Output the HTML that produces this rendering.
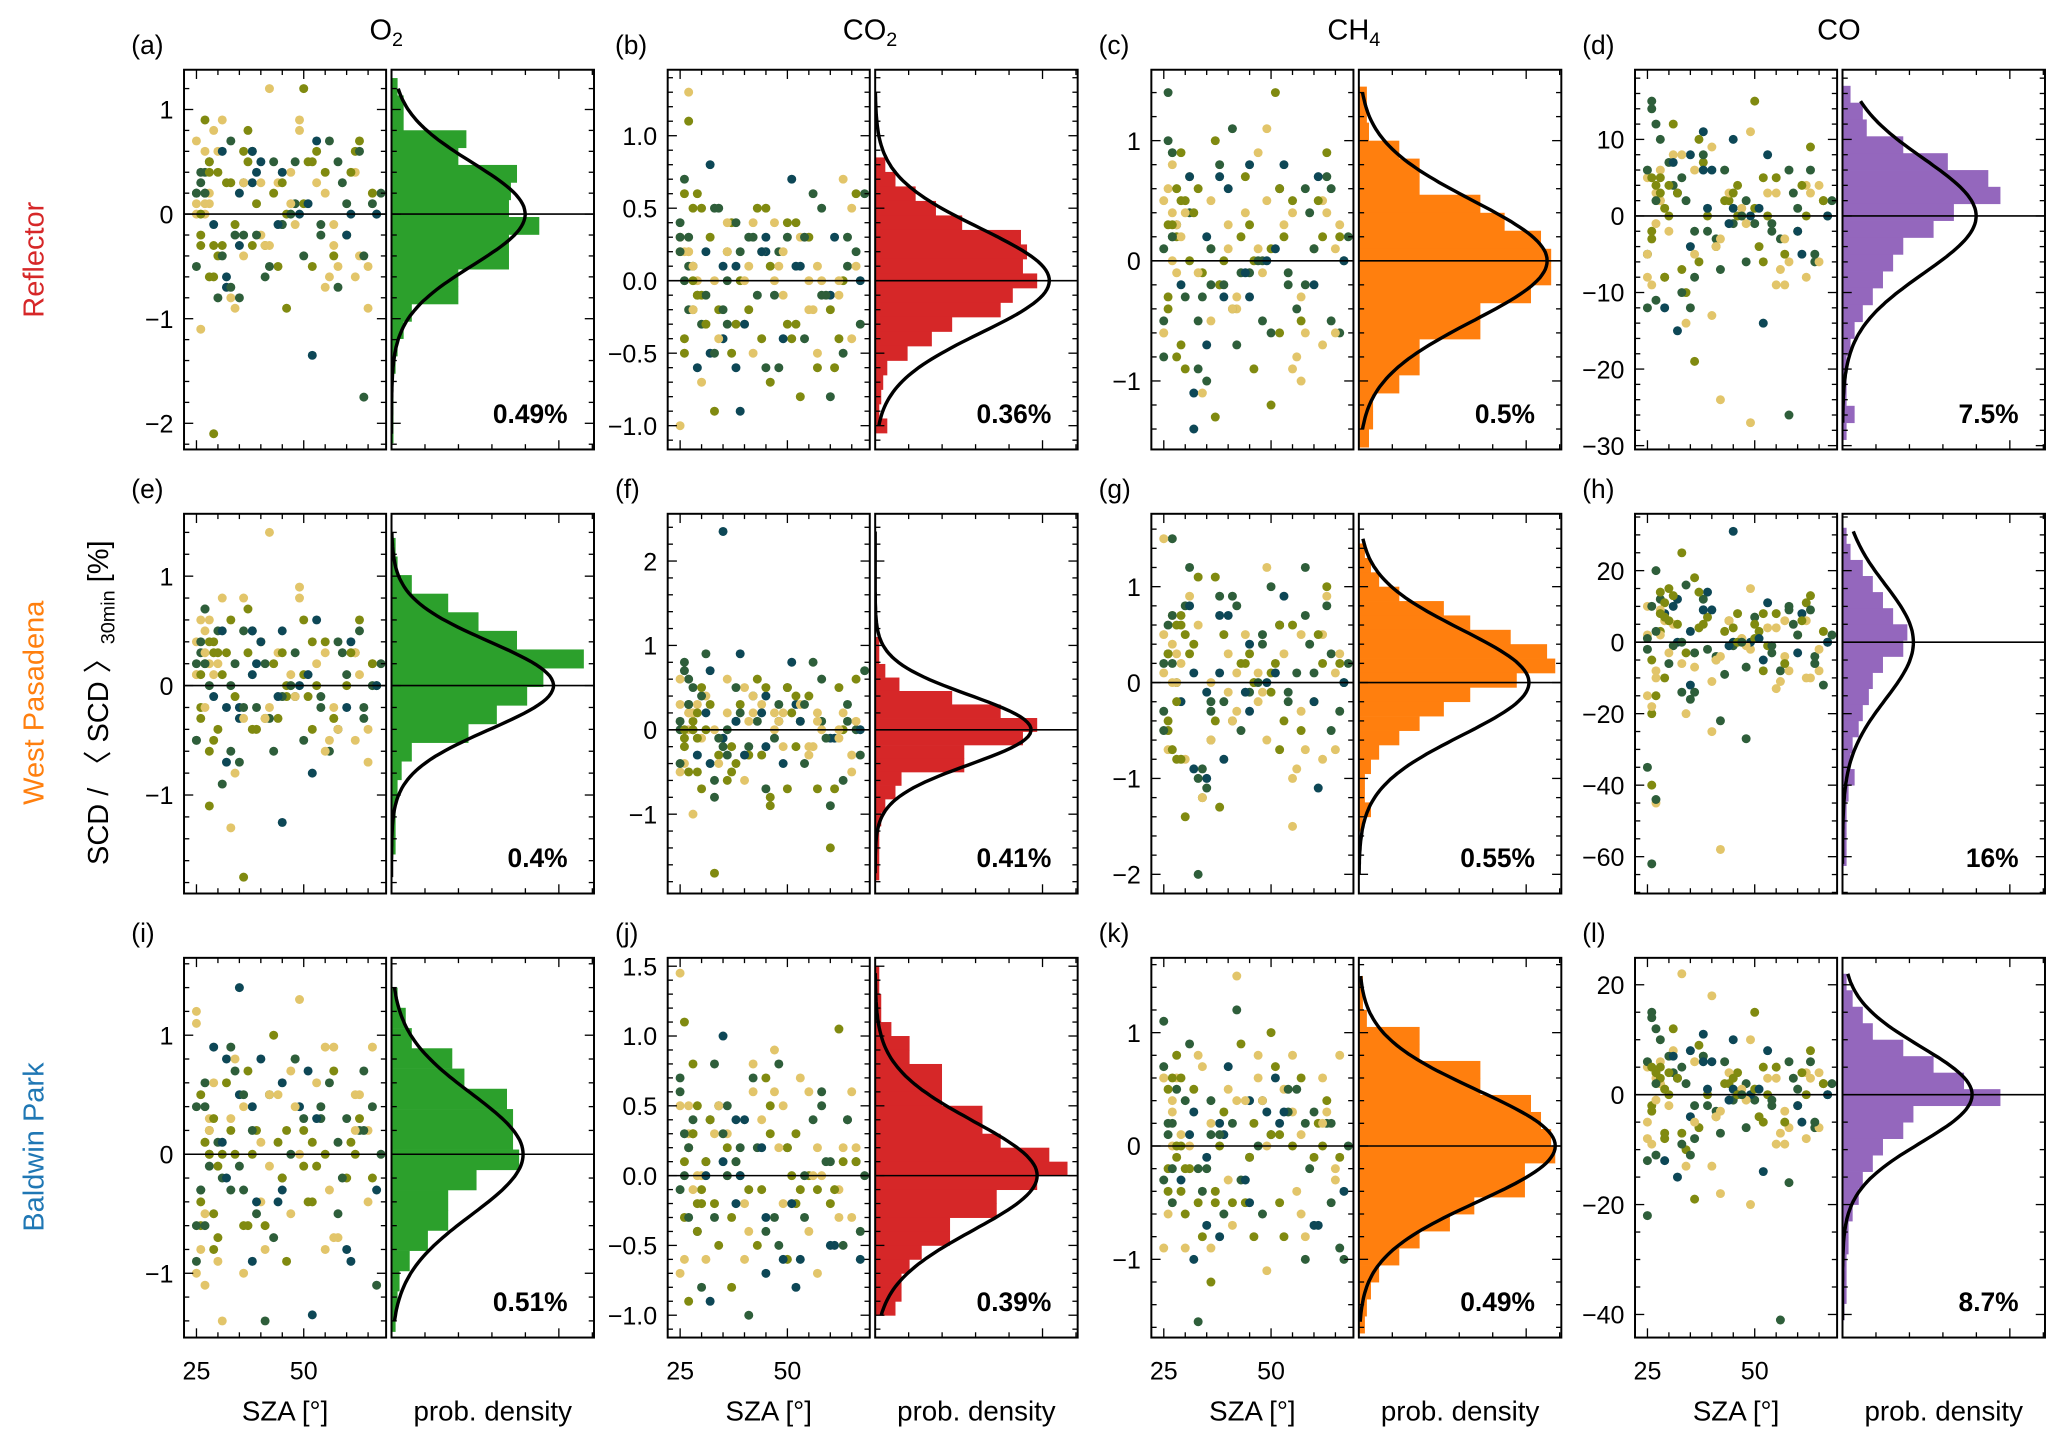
<!DOCTYPE html>
<html><head><meta charset="utf-8"><style>
html,body{margin:0;padding:0;background:#fff}
svg{display:block}
text{font-family:"Liberation Sans",Arial,sans-serif;fill:#000}
</style></head><body>
<svg id="fig" xmlns="http://www.w3.org/2000/svg" width="2067" height="1445" viewBox="0 0 1568 1096" preserveAspectRatio="none">
<text x="293" y="30" font-size="22" text-anchor="middle">O<tspan font-size="15" dy="5">2</tspan></text>
<text x="660" y="30" font-size="22" text-anchor="middle">CO<tspan font-size="15" dy="5">2</tspan></text>
<text x="1027" y="30" font-size="22" text-anchor="middle">CH<tspan font-size="15" dy="5">4</tspan></text>
<text x="1395" y="30" font-size="22" text-anchor="middle">CO</text>
<text transform="translate(33,197) rotate(-90)" font-size="22" text-anchor="middle" style="fill:#d62728">Reflector</text>
<text transform="translate(33,533) rotate(-90)" font-size="22" text-anchor="middle" style="fill:#ff7f0e">West Pasadena</text>
<text transform="translate(33,870) rotate(-90)" font-size="22" text-anchor="middle" style="fill:#1f77b4">Baldwin Park</text>
<text transform="translate(82,533) rotate(-90)" font-size="22" text-anchor="middle">SCD / 〈 SCD 〉<tspan font-size="15" dy="5">30min</tspan><tspan dy="-5"> [%]</tspan></text>
<g id="panels"></g>
</svg>
<script>
// ---- data ----
const sza=[25,26,27,25,28,26,29,27,30,25,31,26,28,32,27,33,25,29,34,26,35,28,36,30,27,37,31,38,26,39,33,40,28,41,35,42,29,43,25,44,36,45,30,46,27,47,38,48,32,49,26,50,40,51,34,52,28,53,42,55,31,56,45,57,27,58,36,60,48,61,33,62,25,63,50,64,39,65,29,66];
const sza2=[44,52,38,60,47,55,33,66,41,58,49,36,63,45,53,29,68,40,57,50,35,62,46,54,31,65,43,59,48,37,64,51,56,28,67,42,61,39,53,34,66,47,58,32,63,44,55,30,60,41,52,36,67,49,57,27,62,45,54,38];
const valsA=[0.7,-0.3,0.4,0.1,-0.6,0.3,-0.1,0.6,-0.4,0.2,0.9,-0.2,0.5,-0.7,0.1,0.3,-0.5,0.8,-0.1,0.4,-0.3,0.2,0.6,-0.8,0.0,0.5,-0.4,0.3,-1.1,0.1,0.7,-0.2,0.4,-0.6,0.2,1.2,-0.3,0.5,0.0,-0.5,0.3,-0.1,0.6,-0.9,0.2,0.4,-0.3,0.1,-0.6,0.8,0.0,-0.4,0.3,0.5,-0.2,-1.35,0.1,0.6,-0.5,0.2,-0.3,0.7,0.4,-0.1,0.9,-0.7,0.3,-0.2,0.5,0.0,-0.8,0.6,0.2,-0.4,1.2,-1.75,0.4,-0.9,-2.1,0.1];
const valsB=[0.3,-0.4,0.1,-1.0,0.5,0.0,-0.6,0.2,-0.1,0.4,-0.3,0.6,0.1,-0.5,0.2,-0.9,0.3,0.0,-0.2,0.7,-0.4,0.1,0.2,-0.3,1.3,0.4,-0.1,-0.6,0.2,0.0,0.5,-0.3,-0.2,0.3,0.1,-0.5,0.6,-0.1,0.2,-0.4,0.0,0.3,-0.7,0.1,-0.2,0.4,-0.3,0.2,0.8,-0.1,-0.5,0.3,0.0,-0.4,0.5,0.1,-0.2,-0.8,0.3,0.0,-0.3,0.6,0.2,-0.5,1.1,-0.1,0.4,-0.2,-0.6,0.3,0.0,-0.4,0.2,0.7,-0.3,0.1,-0.9,0.5,-0.1,0.2];
const valsC=[0.5,-0.3,0.9,-0.6,0.2,1.4,-0.2,0.4,-0.9,0.1,0.7,-0.4,0.3,-1.1,0.0,0.6,-0.5,0.2,-0.1,1.0,-0.7,0.3,0.1,-0.3,0.8,-1.3,0.4,-0.2,0.6,0.0,-0.5,0.3,-0.8,1.1,0.2,-0.4,0.5,-0.1,-0.6,0.7,0.1,-0.3,0.4,-0.9,0.2,0.9,-0.2,0.0,-1.4,0.5,0.3,-0.6,0.1,1.4,-0.3,0.6,-0.1,0.2,-0.7,0.4,0.0,-0.4,0.8,-1.0,0.3,-0.2,0.5,0.1,-0.5,0.7,-0.1,0.2,-0.8,0.4,-1.2,0.6,-0.3,0.1,0.9,-0.6];
const valsD=[5,-3,12,-8,2,15,-12,4,0,-5,8,-2,10,-15,3,-7,6,1,-10,14,-4,2,-19,7,-1,-6,4,11,-9,0,5,-13,3,-3,8,-24,1,6,-5,2,-8,10,-2,4,-11,0,7,-6,3,-27,5,-1,9,-4,2,-14,6,0,-7,3,12,-3,1,-9,4,-26,6,-2,2,-5,8,0,-12,3,15,-6,1,4,-8,2];
const valsE=[0.4,-0.3,0.7,0.1,-0.6,0.3,-0.1,0.5,-0.4,0.2,0.8,-0.2,0.0,-0.7,0.3,0.6,-0.5,0.1,-0.1,0.4,-0.3,0.2,-1.75,0.5,-0.2,0.3,-0.9,0.1,0.6,-0.4,0.0,0.4,-1.1,0.2,-0.2,1.4,0.3,-0.6,0.1,-0.3,0.5,-1.25,0.2,-0.1,0.7,0.0,-0.4,0.3,-0.2,0.9,0.1,-0.5,0.4,-0.1,0.2,-0.8,0.6,0.0,-0.3,0.3,0.1,-0.6,0.5,-0.2,0.2,-0.4,0.8,0.0,-0.1,0.4,-1.3,0.3,-0.5,0.1,0.6,-0.2,0.2,-0.7,0.4,0.0];
const valsF=[0.3,-0.2,0.6,-0.5,0.1,0.8,-0.3,0.2,-0.7,0.0,0.4,-0.1,0.5,-0.4,0.2,-1.7,0.1,0.3,-0.3,0.7,-0.1,0.2,-0.6,0.4,0.0,-0.2,0.9,0.1,-0.4,0.3,-0.8,0.5,0.0,-0.2,2.35,0.2,-0.5,0.1,0.6,-0.3,0.0,0.4,-0.1,-0.9,0.3,0.2,-0.4,0.1,0.7,-0.2,0.0,0.5,-0.6,0.2,-0.1,0.3,-1.0,0.1,0.4,-0.3,0.0,0.8,-0.2,0.2,-0.5,0.1,0.6,-1.4,0.3,-0.1,0.0,0.5,-0.4,0.2,-0.7,0.1,0.9,-0.3,0.2,0.0];
const valsG=[0.5,-0.4,1.5,0.1,-0.8,0.3,-0.2,0.7,-1.4,0.2,0.9,-0.5,0.0,-0.9,0.4,1.1,-0.3,0.2,-1.2,0.6,-0.1,0.3,-0.6,0.8,0.0,-0.4,1.2,0.1,-0.7,0.5,-2.0,0.3,-0.2,0.9,-1.0,0.1,0.6,-0.5,1.5,0.2,-0.3,0.4,-0.8,0.0,0.7,-0.2,-1.3,0.5,0.1,-0.6,0.3,1.0,-0.1,0.2,-0.9,0.6,0.0,-0.4,0.8,-1.5,0.3,0.1,-0.3,0.5,-0.7,1.2,0.0,-0.2,0.4,-1.1,0.6,0.2,-0.5,0.9,-0.1,0.3,-0.8,0.1,0.7,-0.3];
const valsH=[10,-5,20,-15,3,-62,8,-10,15,-2,5,-20,12,0,-8,25,-35,6,-3,10,-12,2,18,-6,-45,4,-1,9,-18,7,0,-25,14,-4,3,-58,11,-9,2,6,-14,31,-3,8,-44,1,5,-7,12,-2,-40,7,-11,3,16,-5,9,-1,-22,4,13,-8,0,6,-15,10,-3,2,-27,8,-6,11,1,-10,5,-4,14,-2,7,-12];
const valsI=[1.2,-0.4,0.6,-1.0,0.2,-0.3,0.9,0.1,-0.7,0.4,-1.4,0.5,-0.1,0.8,-0.5,0.2,-0.9,0.6,0.0,-0.3,1.4,0.3,-0.6,0.1,-1.1,0.7,-0.2,0.4,-0.8,0.2,0.9,-0.4,0.0,-1.4,0.5,-0.1,0.3,-0.7,1.1,0.1,-0.3,0.6,-0.9,0.2,0.4,-0.5,0.0,0.8,-0.2,1.3,-0.6,0.3,0.1,-0.4,0.7,-1.35,0.2,-0.1,0.5,-0.8,0.0,0.6,-0.3,0.9,0.1,-0.5,0.4,-0.2,0.8,-0.9,0.3,0.0,-0.6,0.5,-0.1,0.7,-0.4,0.2,-0.8,0.4];
const valsJ=[0.5,-0.3,0.2,-0.7,0.8,0.0,-0.4,0.3,-0.1,0.6,-0.6,0.1,0.4,-0.9,0.2,-0.2,0.7,0.0,-0.5,0.3,1.0,-0.1,0.2,-0.8,0.5,-0.3,0.1,0.4,-0.6,0.0,0.8,-0.2,0.3,-1.0,0.1,0.6,-0.4,0.2,1.45,-0.1,0.5,-0.7,0.0,0.3,-0.3,0.9,0.1,-0.5,0.4,-0.2,1.1,0.2,-0.6,0.0,0.5,-0.8,0.3,-0.1,0.7,-0.4,0.1,0.4,-0.3,0.2,-0.9,0.6,0.0,-0.2,0.8,-0.5,0.3,1.05,-0.1,0.2,-0.6,0.4,0.0,-0.3,0.5,0.1];
const valsK=[0.6,-0.4,0.2,-0.9,0.8,0.1,-0.3,0.4,-0.6,1.1,0.0,-0.2,0.5,-1.0,0.3,-0.5,0.7,0.1,-0.8,0.2,-0.1,0.6,-1.2,0.4,0.0,-0.4,0.9,0.2,-0.6,0.3,-1.55,0.5,-0.1,0.2,-0.7,1.5,0.0,-0.3,0.6,-0.5,0.1,0.4,-0.9,0.2,-0.2,0.8,0.0,-0.6,0.3,-1.1,0.5,0.1,-0.3,0.7,-0.4,0.2,0.0,-0.8,1.2,0.3,-0.2,0.5,-0.5,0.1,0.6,-1.0,0.2,-0.1,0.4,-0.7,0.8,0.0,-0.3,0.3,1.0,-0.5,0.1,-0.2,0.6,-0.9];
const valsL=[5,-3,12,-8,2,15,-12,4,0,-22,8,-2,10,-15,3,-7,6,1,-10,14,-4,2,-19,7,-1,-6,4,11,-9,0,5,-13,3,-3,8,-18,1,6,-5,2,-8,10,-2,4,-11,0,7,-6,3,-20,5,-1,18,-4,2,-14,6,0,-7,3,12,-41,1,-9,4,-16,6,-2,2,-5,22,0,-12,3,15,-6,1,4,-8,2];
const valsA2=[0.3,-0.5,0.6,-0.2,0.1,0.4,-0.7,0.2,-0.3,0.5,0.0,-0.4,0.7,-0.1,0.3,-0.6,0.2,0.5,-0.3,0.1,-0.8,0.4,0.0,-0.2,0.6,-0.5,0.2,0.3,-0.1,0.8,-0.4,0.1,-0.6,0.5,0.0,-0.3,0.4,-0.2,0.7,-0.9,0.2,0.0,-0.5,0.3,0.6,-0.1,-0.7,0.4,0.1,-0.3,0.5,-0.2,0.0,0.9,-0.4,0.2,-0.6,0.3,-0.1,0.6];
const valsB2=[0.2,-0.3,0.4,-0.1,0.0,0.3,-0.5,0.1,-0.2,0.5,-0.4,0.2,0.0,-0.6,0.3,-0.1,0.6,-0.3,0.1,0.4,-0.2,0.0,-0.7,0.3,0.2,-0.4,0.5,-0.1,0.1,-0.5,0.3,0.7,-0.2,0.0,-0.3,0.4,-0.6,0.2,0.1,-0.4,0.6,-0.1,0.0,0.3,-0.5,0.2,-0.2,0.5,-0.8,0.1,0.4,-0.3,0.0,0.2,-0.6,0.3,-0.1,0.5,-0.4,0.1];
const valsC2=[0.4,-0.6,0.8,-0.2,0.1,0.5,-0.9,0.3,-0.4,0.6,0.0,-0.5,0.9,-0.1,0.3,-0.7,0.2,0.6,-0.3,0.1,-1.0,0.5,0.0,-0.2,0.7,-0.6,0.2,0.4,-0.1,1.0,-0.5,0.1,-0.8,0.6,0.0,-0.3,0.5,-0.2,0.8,-1.1,0.2,0.0,-0.6,0.4,0.7,-0.1,-0.9,0.5,0.1,-0.4,0.6,-0.2,0.0,1.1,-0.5,0.2,-0.7,0.3,-0.1,0.7];
const valsD2=[3,-6,8,-2,1,5,-10,2,-4,6,0,-5,9,-1,3,-8,2,6,-3,1,-12,4,0,-2,7,-6,2,3,-1,10,-5,1,-7,5,0,-3,4,-2,8,-14,2,0,-6,3,6,-1,-9,4,1,-4,5,-2,0,11,-5,2,-8,3,-1,6];
const valsE2=[0.3,-0.4,0.5,-0.2,0.1,0.4,-0.6,0.2,-0.3,0.4,0.0,-0.3,0.6,-0.1,0.2,-0.5,0.2,0.4,-0.3,0.1,-0.7,0.3,0.0,-0.2,0.5,-0.4,0.2,0.3,-0.1,0.7,-0.3,0.1,-0.5,0.4,0.0,-0.2,0.3,-0.2,0.6,-0.8,0.2,0.0,-0.4,0.3,0.5,-0.1,-0.6,0.3,0.1,-0.3,0.4,-0.2,0.0,0.8,-0.3,0.2,-0.5,0.3,-0.1,0.5];
const valsF2=[0.3,-0.2,0.5,-0.1,0.0,0.4,-0.6,0.1,-0.3,0.6,-0.4,0.2,0.0,-0.7,0.3,-0.1,0.7,-0.3,0.1,0.5,-0.2,0.0,-0.8,0.3,0.2,-0.5,0.6,-0.1,0.1,-0.5,0.3,0.8,-0.2,0.0,-0.3,0.4,-0.7,0.2,0.1,-0.4,0.6,-0.1,0.0,0.3,-0.6,0.2,-0.2,0.5,-0.9,0.1,0.4,-0.3,0.0,0.2,-0.7,0.3,-0.1,0.5,-0.4,0.1];
const valsG2=[0.5,-0.7,0.9,-0.2,0.1,0.6,-1.0,0.3,-0.4,0.7,0.0,-0.6,1.0,-0.1,0.3,-0.8,0.2,0.7,-0.3,0.1,-1.1,0.5,0.0,-0.2,0.8,-0.7,0.2,0.4,-0.1,1.1,-0.5,0.1,-0.9,0.6,0.0,-0.3,0.5,-0.2,0.9,-1.2,0.2,0.0,-0.7,0.4,0.8,-0.1,-1.0,0.5,0.1,-0.4,0.6,-0.2,0.0,1.2,-0.5,0.2,-0.8,0.3,-0.1,0.7];
const valsH2=[6,-8,12,-3,1,8,-14,3,-5,9,0,-7,13,-1,4,-10,2,9,-4,1,-16,6,0,-3,10,-8,3,5,-1,14,-6,1,-11,8,0,-4,6,-2,11,-20,3,0,-8,5,9,-1,-13,6,2,-5,8,-3,0,15,-6,3,-10,4,-1,9];
const valsI2=[0.5,-0.4,0.2,-0.8,0.7,0.0,-0.3,0.9,-0.6,0.1,0.4,-1.0,0.3,-0.2,0.6,-0.5,0.0,0.8,-0.7,0.2,-0.1,0.5,-0.9,0.3,0.1,-0.4,1.0,-0.2,0.4,-0.6,0.2,0.7,-0.3,0.0,-1.1,0.5,0.1,-0.5,0.3,0.8,-0.2,0.0,-0.7,0.6,0.2,-0.4,0.9,-0.1,0.3,-0.8,0.1,0.5,-0.3,0.0,0.7,-0.6,0.2,-0.2,0.4,-0.9];
const valsJ2=[0.4,-0.2,0.1,-0.5,0.6,0.0,-0.3,0.2,-0.1,0.5,-0.6,0.3,0.1,-0.4,0.7,-0.2,0.0,0.4,-0.7,0.2,0.3,-0.1,0.5,-0.3,0.0,0.6,-0.5,0.1,0.2,-0.8,0.4,-0.2,0.0,0.3,-0.4,0.8,-0.1,0.2,-0.6,0.5,0.1,-0.3,0.0,0.4,-0.5,0.2,0.6,-0.2,0.1,-0.4,0.3,0.0,-0.6,0.5,-0.1,0.2,-0.3,0.7,0.0,-0.2];
const valsK2=[0.4,-0.5,0.1,-0.7,0.6,0.0,-0.2,0.8,-0.5,0.2,0.3,-0.9,0.4,-0.1,0.5,-0.4,0.0,0.7,-0.6,0.1,-0.2,0.6,-0.8,0.3,0.1,-0.3,0.9,-0.2,0.4,-0.5,0.2,0.6,-0.4,0.0,-1.0,0.4,0.2,-0.6,0.3,0.7,-0.1,0.0,-0.8,0.5,0.2,-0.3,0.8,-0.2,0.3,-0.7,0.1,0.4,-0.4,0.0,0.6,-0.5,0.2,-0.1,0.5,-0.8];
const valsL2=[4,-5,7,-2,1,5,-9,2,-4,6,0,-5,8,-1,3,-7,2,6,-3,1,-11,4,0,-2,7,-6,2,3,-1,9,-5,1,-7,5,0,-3,4,-2,8,-13,2,0,-6,3,6,-1,-9,4,1,-4,5,-2,0,10,-5,2,-8,3,-1,6];
// histogram densities (fraction of density axis), top bin first
const histA=[0.03,0.06,0.06,0.37,0.33,0.62,0.59,0.58,0.73,0.58,0.58,0.33,0.33,0.10,0.06,0.03,0.02,0.01,0.01,0.01,0.01];
const histB=[0.05,0.1,0.2,0.3,0.43,0.72,0.75,0.73,0.80,0.68,0.62,0.38,0.28,0.16,0.06,0.04,0.03,0.02,0.06];
const histC=[0.04,0.04,0.05,0.2,0.3,0.3,0.6,0.72,0.9,0.95,0.95,0.85,0.6,0.6,0.3,0.3,0.2,0.07,0.07,0.05];
const histD=[0.04,0.1,0.12,0.3,0.52,0.72,0.78,0.55,0.45,0.3,0.25,0.2,0.15,0.1,0.06,0.04,0.02,0.02,0.02,0.06,0.02];
const histE=[0.02,0.03,0.1,0.28,0.43,0.62,0.95,0.75,0.67,0.52,0.38,0.1,0.05,0.03,0.02,0.02,0.02];
const histF=[0.02,0.02,0.05,0.12,0.38,0.62,0.8,0.73,0.44,0.44,0.13,0.1,0.05,0.03,0.02,0.02,0.02,0.02];
const histG=[0.03,0.06,0.1,0.2,0.42,0.55,0.75,0.93,0.97,0.78,0.55,0.42,0.3,0.2,0.1,0.06,0.03,0.03,0.06,0.02];
const histH=[0.02,0.04,0.1,0.15,0.2,0.25,0.32,0.3,0.2,0.15,0.13,0.1,0.08,0.05,0.04,0.06,0.03,0.02,0.02,0.02,0.02];
const histI=[0.03,0.07,0.1,0.3,0.36,0.57,0.6,0.6,0.63,0.42,0.28,0.28,0.18,0.09,0.04,0.03,0.02];
const histJ=[0.02,0.02,0.03,0.03,0.08,0.17,0.17,0.33,0.33,0.33,0.53,0.53,0.62,0.86,0.95,0.80,0.6,0.6,0.37,0.37,0.23,0.17,0.13,0.13,0.1];
const histK=[0.02,0.02,0.04,0.3,0.3,0.6,0.6,0.85,0.9,0.95,0.97,0.82,0.82,0.57,0.45,0.3,0.2,0.1,0.06,0.04,0.03];
const histL=[0.02,0.05,0.1,0.15,0.3,0.45,0.6,0.78,0.35,0.3,0.2,0.15,0.1,0.08,0.05,0.03,0.03,0.02,0.02,0.02,0.01];
const binTops=[1.3,0.85,1.45,17,1.35,1.1,1.45,32,1.4,1.5,1.5,22];
const binWidths=[0.166,0.1,0.15,2.2,0.17,0.16,0.15,4.5,0.17,0.1,0.15,3];
const sigmas=[0.49,0.36,0.5,7.5,0.4,0.41,0.55,16,0.51,0.39,0.49,8.7];
const fitPeaks=[0.66,0.86,0.93,0.66,0.80,0.77,0.84,0.35,0.65,0.80,0.97,0.64];
const pctLabels=["0.49%","0.36%","0.5%","7.5%","0.4%","0.41%","0.55%","16%","0.51%","0.39%","0.49%","8.7%"];
const letters=["a","b","c","d","e","f","g","h","i","j","k","l"];
const yLims=[[-2.25,1.38],[-1.164,1.455],[-1.57,1.59],[-30.5,19.1],[-1.9,1.57],[-1.94,2.56],[-2.2,1.76],[-70.3,35.9],[-1.54,1.65],[-1.16,1.56],[-1.69,1.66],[-44.2,24.9]];
const majorSteps=[1,0.5,1,10,1,1,1,20,1,0.5,1,20];
const minorSteps=[0.2,0.1,0.2,2,0.2,0.2,0.2,5,0.2,0.1,0.2,5];
const decs=[0,1,0,0,0,0,0,0,0,1,0,0];
const xTicks=[25,50];
const allVals=[valsA,valsB,valsC,valsD,valsE,valsF,valsG,valsH,valsI,valsJ,valsK,valsL];
const allVals2=[valsA2,valsB2,valsC2,valsD2,valsE2,valsF2,valsG2,valsH2,valsI2,valsJ2,valsK2,valsL2];
const allHist=[histA,histB,histC,histD,histE,histF,histG,histH,histI,histJ,histK,histL];
const histColors=["#2ca02c","#d62728","#ff7f0e","#9467bd"];
const ptColors=["#e2c56a","#808a10","#2e5e3a","#e2c56a","#808a10","#2e5e3a","#0d4756"];
// ---- layout ----
const colX=[139.6,506.5,873.4,1240.3], rowY=[52.9,389.7,726.5];
const SW=153.3, HOFF=157.4, HW=153.6, PH=288, XMIN=22.1, XMAX=69.2;
const NS="http://www.w3.org/2000/svg";
const root=document.getElementById("panels");
function mk(tag,attrs,parent){const e=document.createElementNS(NS,tag);for(const k in attrs)e.setAttribute(k,attrs[k]);(parent||root).appendChild(e);return e;}
function fmt(v,d){const s=Math.abs(v).toFixed(d);return (v<-1e-9?"\u2212":"")+s;}
for(let i=0;i<12;i++){
  const c=i%4,r=Math.floor(i/4);
  const sx=colX[c],top=rowY[r],hx=sx+HOFF,bot=top+PH;
  const [y0,y1]=yLims[i];
  const ys=v=>bot-(v-y0)/(y1-y0)*PH;
  const xs=v=>sx+(v-XMIN)/(XMAX-XMIN)*SW;
  const hxs=d=>hx+d*HW;
  const g=mk("g",{});
  
  
  const cp=mk("clipPath",{id:"cs"+i},g);mk("rect",{x:sx,y:top,width:SW,height:PH},cp);
  const ch=mk("clipPath",{id:"ch"+i},g);mk("rect",{x:hx,y:top,width:HW,height:PH},ch);
  const lt=mk("text",{x:sx-40,y:top-12,"font-size":20},g);lt.textContent="("+letters[i]+")";
  
  
  const sg=mk("g",{"clip-path":"url(#cs"+i+")"},g);
  
  
  const xsAll=sza.concat(sza2), vals=allVals[i].concat(allVals2[i]);
  for(let k=0;k<vals.length;k++){
    const p=mk("circle",{cx:xs(xsAll[k]).toFixed(1),cy:ys(vals[k]).toFixed(1),r:3.4,fill:ptColors[k%ptColors.length]},sg);
    
    
  }
  const hg=mk("g",{"clip-path":"url(#ch"+i+")"},g);
  
  
  const hist=allHist[i];
  for(let b=0;b<hist.length;b++){
    const vt=binTops[i]-b*binWidths[i],vb=vt-binWidths[i];
    const br=mk("rect",{x:hx,y:ys(vt).toFixed(1),width:(hxs(hist[b])-hx).toFixed(1),height:(ys(vb)-ys(vt)+0.3).toFixed(1),fill:histColors[c]},hg);
    
    
  }
  const mn=Math.min(...vals),mx=Math.max(...vals);let d="";
  for(let s=0;s<=120;s++){const v=mx-(mx-mn)*s/120;const dens=fitPeaks[i]*Math.exp(-v*v/(2*sigmas[i]*sigmas[i]));d+=(s?"L":"M")+hxs(dens).toFixed(1)+","+ys(v).toFixed(1);}
  const fp=mk("path",{d:d,fill:"none",stroke:"#000","stroke-width":2.6},hg);
  
  
  for(const [a,w] of [[sx,SW],[hx,HW]]){const zl=mk("line",{x1:a,x2:a+w,y1:ys(0),y2:ys(0),stroke:"#000","stroke-width":1.2},g);
    
    }
  for(const [a,w] of [[sx,SW],[hx,HW]]){const fr=mk("rect",{x:a,y:top,width:w,height:PH,fill:"none",stroke:"#000","stroke-width":1.5},g);
    
    }
  const tk=mk("g",{stroke:"#000","stroke-width":1},g);
  
  
  const ms=minorSteps[i];
  for(let n=Math.ceil(y0/ms);n*ms<=y1;n++){
    const v=n*ms,yy=ys(v);const isMaj=Math.abs(v/majorSteps[i]-Math.round(v/majorSteps[i]))<1e-6;const L=isMaj?7:4;
    for(const [a,w] of [[sx,SW],[hx,HW]]){mk("line",{x1:a,x2:a+L,y1:yy,y2:yy},tk);mk("line",{x1:a+w,x2:a+w-L,y1:yy,y2:yy},tk);}
    if(isMaj){const t=mk("text",{x:sx-8,y:yy+7,"font-size":19,"text-anchor":"end"},g);t.textContent=fmt(v,decs[i]);
      
      }
  }
  for(let v=25;v<=65;v+=5){const isMaj=xTicks.includes(v);const L=isMaj?7:4;const xx=xs(v);
    mk("line",{x1:xx,x2:xx,y1:bot,y2:bot-L},tk);mk("line",{x1:xx,x2:xx,y1:top,y2:top+L},tk);}
  for(let q=1;q<=6;q++){const xx=hx+HW*q/6.05;const L=q==5?7:4;mk("line",{x1:xx,x2:xx,y1:bot,y2:bot-L},tk);mk("line",{x1:xx,x2:xx,y1:top,y2:top+L},tk);}
  const pl=mk("text",{x:hx+HW-20,y:bot-20,"font-size":20,"font-weight":"bold","text-anchor":"end"},g);pl.textContent=pctLabels[i];
  
  
  if(r==2){
    for(const v of xTicks){const t=mk("text",{x:xs(v),y:bot+32,"font-size":19,"text-anchor":"middle"},g);t.textContent=v;
      
      }
    const xt=mk("text",{x:sx+SW/2,y:bot+63,"font-size":21,"text-anchor":"middle"},g);xt.textContent="SZA [°]";
    
    
    const ht=mk("text",{x:hx+HW/2,y:bot+63,"font-size":21,"text-anchor":"middle"},g);ht.textContent="prob. density";
    
    
  }
}
</script>
</body></html>
